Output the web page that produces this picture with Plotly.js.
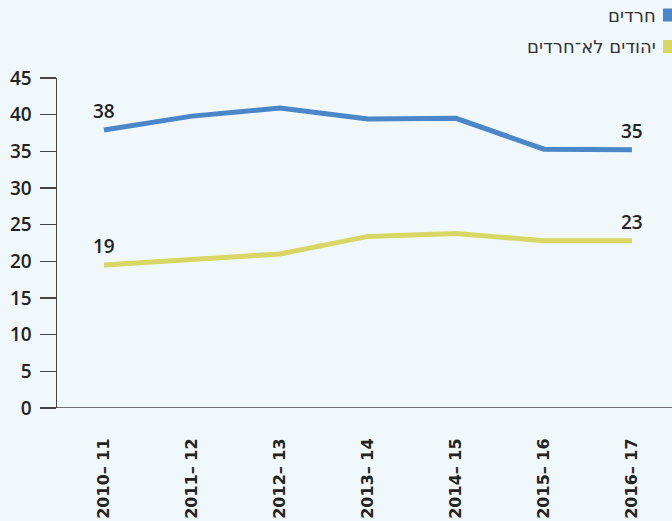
<!DOCTYPE html>
<html><head><meta charset="utf-8">
<script src="https://cdn.plot.ly/plotly-3.0.1.min.js"></script>
<style>html,body{margin:0;padding:0;background:#f1f8fb}</style>
</head><body><div id="chart" style="width:672px;height:521px"></div>
<script>
const categories = ["2010– 11","2011– 12","2012– 13","2013– 14","2014– 15","2015– 16","2016– 17"];
const seriesNames = ["חרדים","יהודים לא־חרדים"];
const haredi = [37.9, 39.8, 40.9, 39.4, 39.5, 35.3, 35.2];
const nonHaredi = [19.5, 20.3, 21.0, 23.4, 23.8, 22.8, 22.8];
const harediLabels = ["38","","","","","","35"];
const nonHarediLabels = ["19","","","","","","23"];
const colors = ["#4a86c8","#d8d665"];

const idx = categories.map((c,i)=>i);
const labelFont = {family:"Open Sans, DejaVu Sans, sans-serif", size:19, color:"#222", weight:600};
const traces = [
  {x: idx, y: haredi, mode:"lines", line:{color:colors[0], width:5}, hoverinfo:"none", name: seriesNames[0]},
  {x: idx, y: nonHaredi, mode:"lines", line:{color:colors[1], width:5}, hoverinfo:"none", name: seriesNames[1]}
];

const annotations = [];
[[haredi, harediLabels],[nonHaredi, nonHarediLabels]].forEach(([vals, labs])=>{
  labs.forEach((t,i)=>{ if(t) annotations.push({xref:"x", yref:"y", x:idx[i], y:vals[i], text:t,
    showarrow:false, yanchor:"middle", xanchor:"center", yshift:19, font:labelFont}); });
});
seriesNames.forEach((n,i)=>{ const cy=[16,47][i];
  annotations.push({xref:"paper", yref:"paper", x:(658-57)/615, y:(408-cy)/330, xanchor:"right", yanchor:"middle",
    text:n, showarrow:false, font:{family:"DejaVu Sans, sans-serif", size:18, color:"#333"}});
});
const shapes = colors.map((c,i)=>{ const cy=[15,46.5][i];
  return {type:"rect", xref:"paper", yref:"paper", x0:(663-57)/615, x1:(672-57)/615,
    y0:(408-(cy+6.5))/330, y1:(408-(cy-6.5))/330, line:{width:0}, fillcolor:c}; });
shapes.push({type:"line", xref:"x", yref:"y", x0:-0.72, x1:6.455, y0:0, y1:0, line:{color:"#444", width:1.5}});

const layout = {
  width:672, height:521,
  margin:{l:57, r:0, t:78, b:113},
  paper_bgcolor:"#f1f8fb", plot_bgcolor:"#f1f8fb",
  showlegend:false,
  xaxis:{
    range:[-0.534, 6.455], tickmode:"array", tickvals: idx, ticktext: categories,
    tickangle:-90, showgrid:false, zeroline:false, showline:false,
    ticks:"outside", ticklen:23, tickcolor:"rgba(0,0,0,0)",
    tickfont:{family:"DejaVu Sans, sans-serif", size:16, color:"#222", weight:700},
    fixedrange:true
  },
  yaxis:{
    range:[0,45], tickvals:[0,5,10,15,20,25,30,35,40,45],
    showgrid:false, zeroline:false, showline:true, linecolor:"#444", linewidth:1.5,
    ticks:"outside", ticklen:16, tickcolor:"#444", tickwidth:1.5, ticklabelstandoff:4,
    tickfont:{family:"Open Sans, DejaVu Sans, sans-serif", size:19, color:"#222", weight:600},
    fixedrange:true
  },
  shapes: shapes,
  annotations: annotations
};
Plotly.newPlot("chart", traces, layout, {displayModeBar:false, staticPlot:true});
</script></body></html>
